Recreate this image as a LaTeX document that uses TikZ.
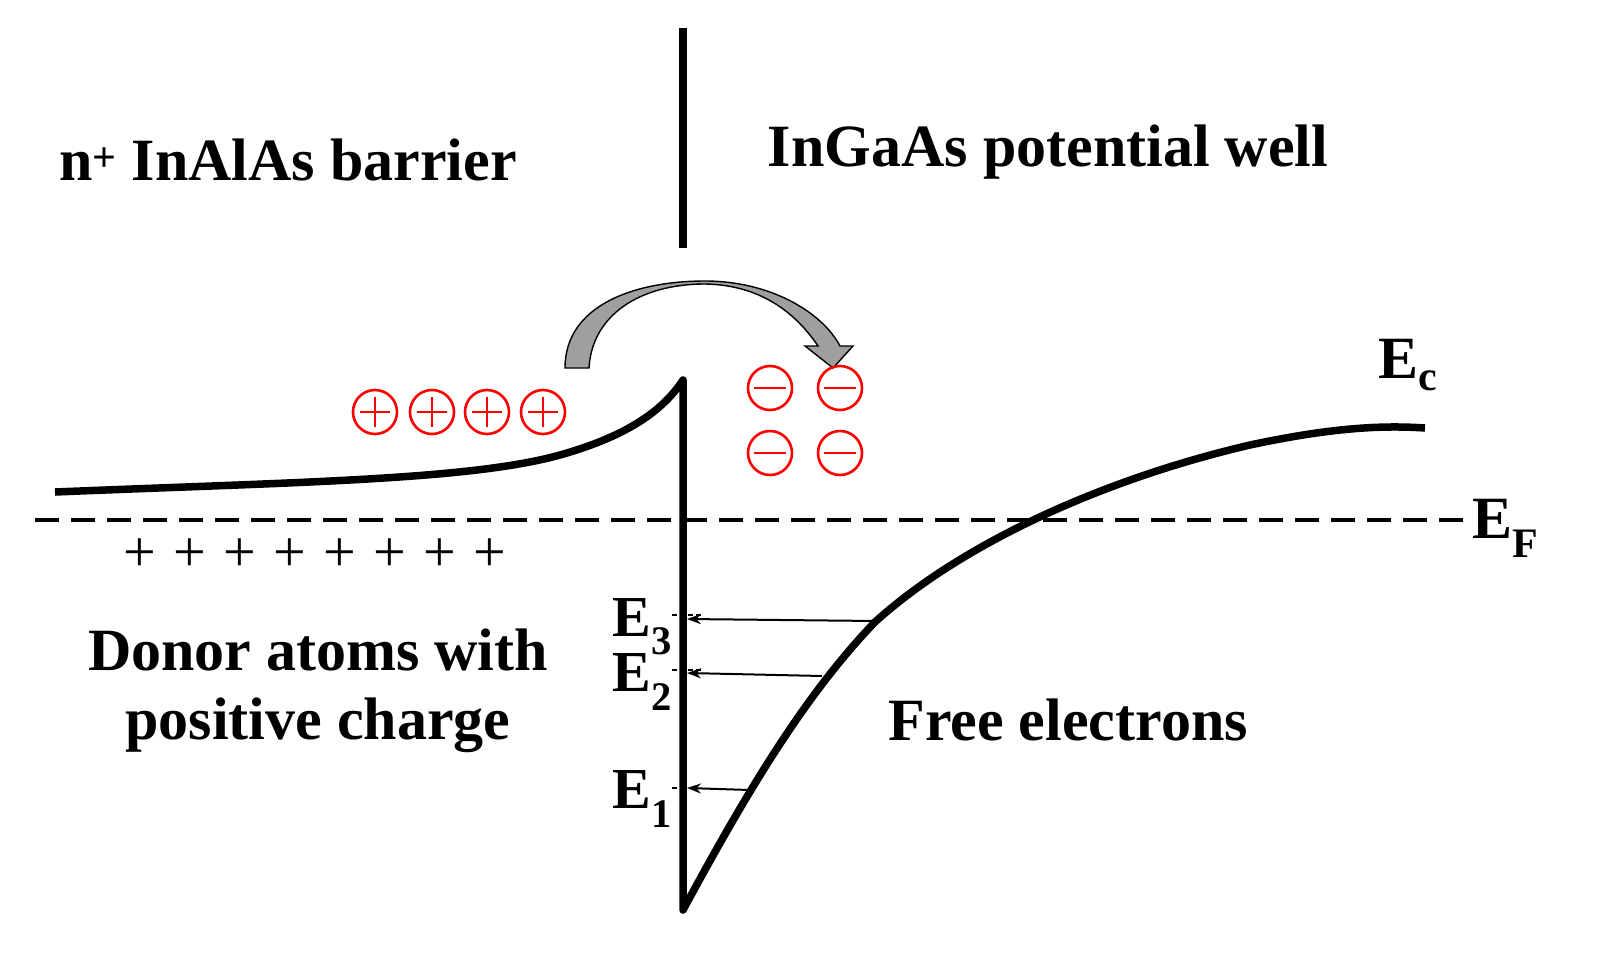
\documentclass[tikz,border=0pt]{standalone}
\usepackage{fontspec}
\setmainfont{Liberation Serif}
\usetikzlibrary{arrows.meta}
\begin{document}
\begin{tikzpicture}[x=1pt,y=-1pt,
  lbl/.style={font=\fontsize{60}{64}\selectfont\bfseries,inner sep=0},
  elbl/.style={font=\fontsize{58}{60}\selectfont\bfseries,inner sep=0,anchor=east},
  band/.style={line width=7.5pt},
  circ/.style={draw=red,line width=2.6pt,circle,minimum size=44pt,inner sep=0},
  lev/.style={-{Stealth[length=14pt,width=10pt]},line width=2pt}]
\useasboundingbox (0,0) rectangle (1606,964);
% divider
\draw[band] (683,28) -- (683,248);
\node[lbl] (t1) at (288,160) {n\textsuperscript{+} InAlAs barrier};
\node[lbl] (t2) at (1048,152) {InGaAs potential well};
% bands
\draw[band,line join=round] (55,492) .. controls (300,482) and (470,480) .. (560,455) .. controls (620,438) and (660,415) .. (683,380) -- (683,910)
  .. controls (740,805) and (800,700) .. (875,622) .. controls (960,545) and (1100,480) .. (1250,445) .. controls (1330,428) and (1380,425) .. (1425,428);
\draw[line width=4pt,dash pattern=on 24pt off 12pt] (35,520) -- (1465,520);
\node[lbl,anchor=west] (ef) at (1472,528) {E\textsubscript{F}};
\node[lbl] (ec) at (1408,365) {E\textsubscript{c}};
% curved arrow
\draw[fill=gray!75,line width=1.4pt,line join=miter]
 (565,368) .. controls (565,305) and (635,281) .. (705,281) .. controls (770,281) and (822,312) .. (840,346) -- (853,346) -- (833,368) -- (805,346) -- (818,346)
 .. controls (795,312) and (760,285) .. (705,284) .. controls (640,284) and (592,315) .. (589,368) -- cycle;
% charges
\foreach \x [count=\i] in {375,432,487,543}{
  \node[circ] (p\i) at (\x,412) {};
  \draw[red,line width=2.6pt] (\x-15,412) -- (\x+15,412) (\x,397) -- (\x,427);}
\foreach \x/\y [count=\i] in {770/388,840/388,770/453,840/453}{
  \node[circ] (m\i) at (\x,\y) {};
  \draw[red,line width=2.6pt] (\x-16,\y) -- (\x+16,\y);}
\foreach \x in {140,190,240,290,340,390,440,490}
  \node[font=\fontsize{58}{60}\selectfont,inner sep=0] at (\x,555) {+};
% levels
\coordinate (c3) at (876,621); \coordinate (w3) at (687,619);
\coordinate (c2) at (822,676); \coordinate (w2) at (687,673);
\coordinate (c1) at (750,790); \coordinate (w1) at (687,788);
\draw[lev] (c3) -- (w3);
\draw[lev] (c2) -- (w2);
\draw[lev] (c1) -- (w1);
\draw[line width=1.2pt,dash pattern=on 5pt off 3pt] (672,615)--(703,615) (672,670)--(703,670) (672,788)--(683,788);
\node[elbl] (e3) at (672,627) {E\textsubscript{3}};
\node[elbl] (e2) at (672,682) {E\textsubscript{2}};
\node[elbl] (e1) at (672,799) {E\textsubscript{1}};
\node[lbl] (d1) at (318,650) {Donor atoms with};
\node[lbl] (d2) at (318,725) {positive charge};
\node[lbl] (fe) at (1068,720) {Free electrons};
\end{tikzpicture}
\end{document}
